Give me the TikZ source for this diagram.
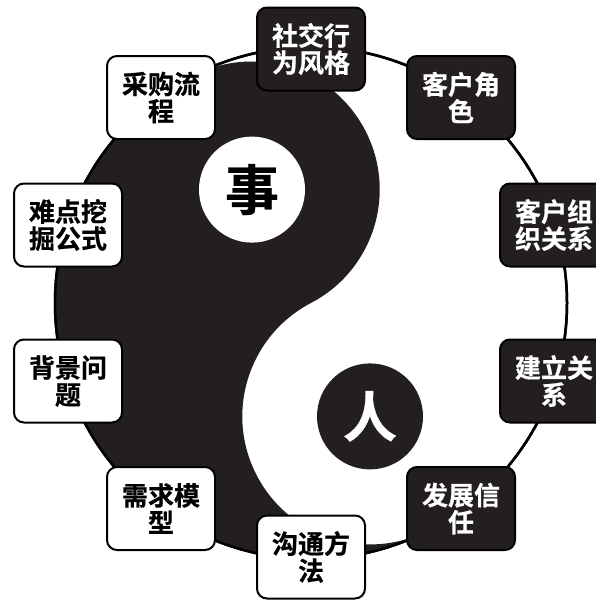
\documentclass[tikz,border=0pt]{standalone}
\usepackage{fontspec}
\setmainfont{Noto Sans CJK SC}[BoldFont={Noto Sans CJK SC Bold}, BoldFeatures={FakeBold=0.6}]
\definecolor{ink}{HTML}{231F20}
\tikzset{
  boxbase/.style={rounded corners=10pt, line width=2pt, draw=black,
    minimum width=108pt, minimum height=83pt, align=center, inner sep=0pt,
    font=\fontsize{26}{27}\selectfont\bfseries},
  darkbox/.style={boxbase, fill=ink, text=white},
  lightbox/.style={boxbase, fill=white, text=black},
  ring/.style={line width=2.5pt, draw=black},
}
\begin{document}
\begin{tikzpicture}[x=1pt,y=-1pt]
\useasboundingbox (0,0) rectangle (596,605);
\clip (0,0) rectangle (596,605);
\fill[white] (0,0) rectangle (596,605);
% yin-yang
\coordinate (c) at (311,303);
\draw[ring, fill=white] (c) circle[radius=256];
\fill[ink] (192.4,76.1) arc[start angle=242.4, end angle=62.4, radius=256]
  arc[start angle=62.4, end angle=242.4, radius=128]
  arc[start angle=62.4, end angle=-117.6, radius=128] -- cycle;
\draw[ring] (c) circle[radius=256];
\node[circle, fill=white, minimum size=106pt, inner sep=0pt,
  font=\fontsize{54}{54}\selectfont\bfseries] (shi) at (252,189.6) {事};
\node[circle, fill=ink, text=white, minimum size=106pt, inner sep=0pt,
  font=\fontsize{54}{54}\selectfont\bfseries] (ren) at (370,416.4) {人};
% boxes
\node[darkbox] (b1) at (311,49) {社交行\\为风格};
\node[darkbox] (b2) at (461,97.5) {客户角\\色};
\node[darkbox] (b3) at (554,225) {客户组\\织关系};
\node[darkbox] (b4) at (554,381) {建立关\\系};
\node[darkbox] (b5) at (461,508.5) {发展信\\任};
\node[lightbox] (b6) at (311,557) {沟通方\\法};
\node[lightbox] (b7) at (161,508.5) {需求模\\型};
\node[lightbox] (b8) at (68,381) {背景问\\题};
\node[lightbox] (b9) at (68,225) {难点挖\\掘公式};
\node[lightbox] (b10) at (161,97.5) {采购流\\程};
\end{tikzpicture}
\end{document}
